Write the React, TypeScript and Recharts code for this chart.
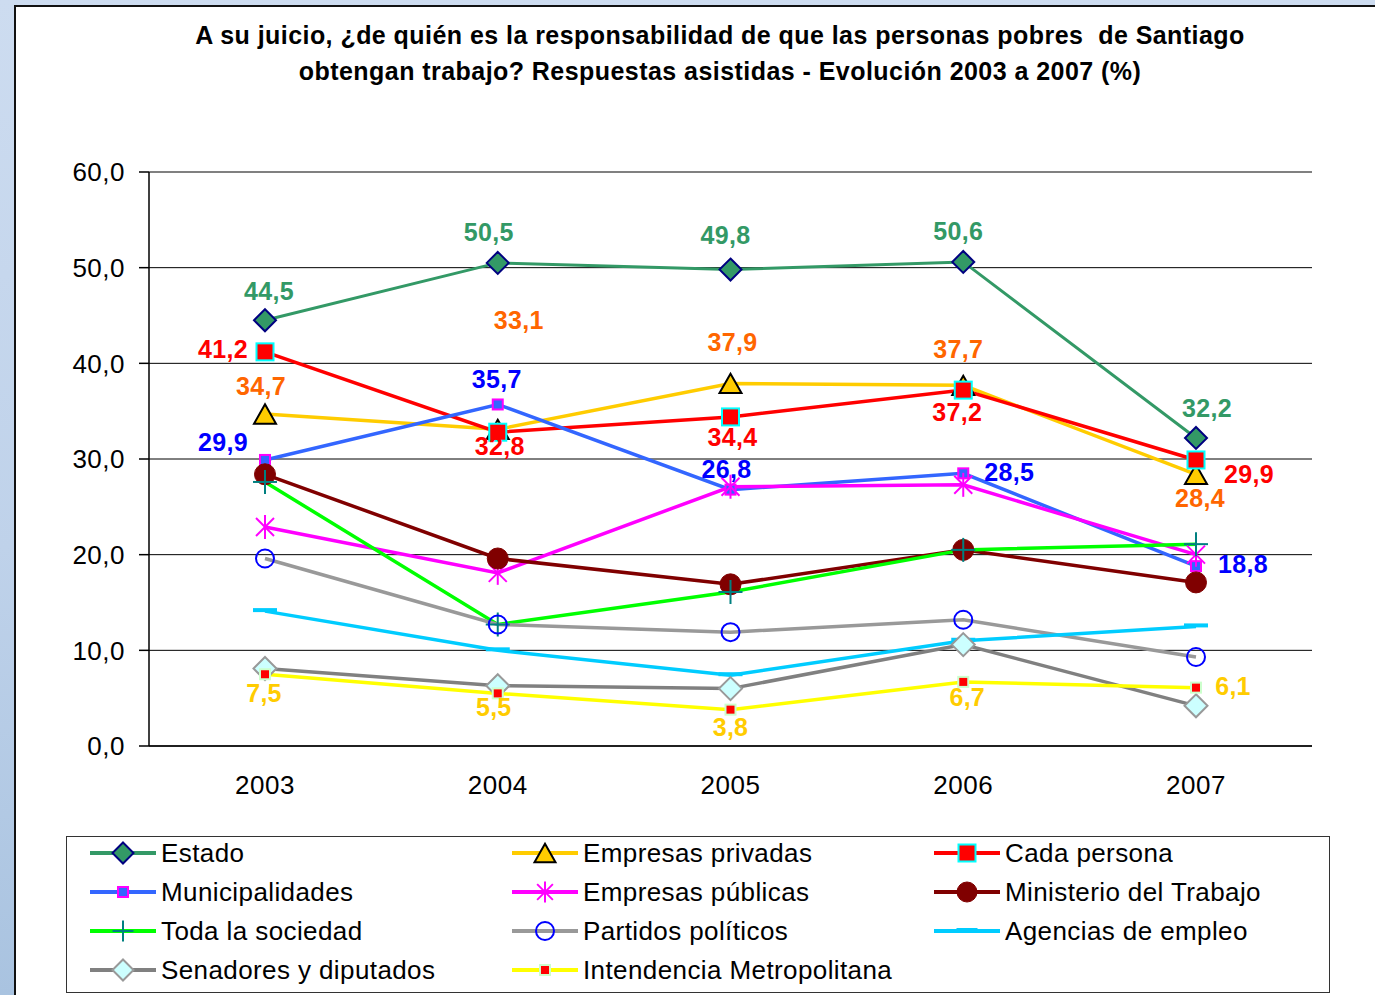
import React from 'react';
import { LineChart, Line, XAxis, YAxis, CartesianGrid, ReferenceLine, Legend, LabelList } from 'recharts';

// ---------- data ----------
const YEARS = ['2003', '2004', '2005', '2006', '2007'];
const ESTADO = [44.5, 50.5, 49.8, 50.6, 32.2];
const EMPRESAS_PRIVADAS = [34.7, 33.1, 37.9, 37.7, 28.4];
const CADA_PERSONA = [41.2, 32.8, 34.4, 37.2, 29.9];
const MUNICIPALIDADES = [29.9, 35.7, 26.8, 28.5, 18.8];
const EMPRESAS_PUBLICAS = [22.9, 18.1, 27.1, 27.3, 20.0];
const MINISTERIO = [28.4, 19.6, 16.9, 20.5, 17.1];
const TODA_SOCIEDAD = [27.6, 12.7, 16.1, 20.5, 21.1];
const PARTIDOS = [19.6, 12.7, 11.9, 13.2, 9.3];
const AGENCIAS = [14.1, 10.0, 7.4, 11.0, 12.5];
const SENADORES = [8.1, 6.3, 6.0, 10.6, 4.2];
const INTENDENCIA = [7.5, 5.5, 3.8, 6.7, 6.1];
const Y_TICKS = [0, 10, 20, 30, 40, 50, 60];
const BAND_TICKS = [0, 1, 2, 3, 4, 5];

const SERIES_KEYS = [
  'estado', 'privadas', 'cada', 'muni', 'publicas', 'ministerio',
  'toda', 'partidos', 'agencias', 'senadores', 'intendencia',
];
const SERIES_NAMES = [
  'Estado', 'Empresas privadas', 'Cada persona', 'Municipalidades', 'Empresas públicas',
  'Ministerio del Trabajo', 'Toda la sociedad', 'Partidos políticos', 'Agencias de empleo',
  'Senadores y diputados', 'Intendencia Metropolitana',
];
const SERIES_VALUES = [
  ESTADO, EMPRESAS_PRIVADAS, CADA_PERSONA, MUNICIPALIDADES, EMPRESAS_PUBLICAS,
  MINISTERIO, TODA_SOCIEDAD, PARTIDOS, AGENCIAS, SENADORES, INTENDENCIA,
];
const LABELED = ['estado', 'privadas', 'cada', 'muni', 'intendencia'];

const rows = YEARS.map((year, i) => {
  const r: Record<string, any> = { year };
  SERIES_KEYS.forEach((k, s) => { r[k] = SERIES_VALUES[s][i]; });
  return r;
});

// ---------- styles ----------
const FONT = '"Liberation Sans", Arial, Helvetica, sans-serif';

type St = { color: string; width: number; marker: string; size: number; fill: string; stroke: string; sw: number };
const STYLES: Record<string, St> = {
  estado: { color: '#339966', width: 3, marker: 'diamond', size: 22, fill: '#339966', stroke: '#000080', sw: 2 },
  privadas: { color: '#FFCC00', width: 3.5, marker: 'triangle', size: 22, fill: '#FFCC00', stroke: '#000000', sw: 2 },
  cada: { color: '#FF0000', width: 3.5, marker: 'square', size: 19, fill: '#FF0000', stroke: '#00FFFF', sw: 2 },
  muni: { color: '#3366FF', width: 3.5, marker: 'square', size: 12, fill: '#3366FF', stroke: '#FF00FF', sw: 2 },
  publicas: { color: '#FF00FF', width: 3.5, marker: 'star', size: 24, fill: 'none', stroke: '#FF00FF', sw: 2 },
  ministerio: { color: '#800000', width: 3.5, marker: 'circle', size: 22, fill: '#800000', stroke: '#800000', sw: 1 },
  toda: { color: '#00FF00', width: 3.5, marker: 'plus', size: 24, fill: 'none', stroke: '#008080', sw: 2 },
  partidos: { color: '#999999', width: 3.5, marker: 'circle', size: 20, fill: 'none', stroke: '#0000FF', sw: 2 },
  agencias: { color: '#00CCFF', width: 3.5, marker: 'dash', size: 24, fill: '#00CCFF', stroke: '#00CCFF', sw: 4 },
  senadores: { color: '#808080', width: 3.5, marker: 'diamond', size: 23, fill: '#CCFFFF', stroke: '#999999', sw: 2 },
  intendencia: { color: '#FFFF00', width: 3.5, marker: 'square', size: 12, fill: '#FF0000', stroke: '#CCFFCC', sw: 2 },
};

const LABEL_STYLE: Record<string, { color: string; offsets: number[][] }> = {
  estado: { color: '#339966', offsets: [[4, -29], [-9, -31], [-5, -35], [-5, -31], [11, -30]] },
  privadas: { color: '#FF6600', offsets: [[-4, -28], [21, -109], [2, -41], [-5, -36], [4, 24]] },
  cada: { color: '#FF0000', offsets: [[-42, -3], [2, 14], [2, 20], [-6, 22], [53, 14]] },
  muni: { color: '#0000FF', offsets: [[-42, -18], [-1, -25], [-4, -21], [46, -1], [47, -2]] },
  intendencia: { color: '#FFCC00', offsets: [[-1, 19], [-4, 14], [0, 17], [4, 15], [37, -2]] },
};

const fmt = (v: number) => v.toFixed(1).replace('.', ',');

function Marker({ st, cx, cy }: { st: St; cx: number; cy: number }) {
  const r = st.size / 2;
  switch (st.marker) {
    case 'diamond':
      return <polygon points={`${cx},${cy - r} ${cx + r},${cy} ${cx},${cy + r} ${cx - r},${cy}`} fill={st.fill} stroke={st.stroke} strokeWidth={st.sw} />;
    case 'triangle': {
      const h = st.size * 0.88;
      return <polygon points={`${cx},${cy - h / 2} ${cx + r},${cy + h / 2} ${cx - r},${cy + h / 2}`} fill={st.fill} stroke={st.stroke} strokeWidth={st.sw} strokeLinejoin="miter" />;
    }
    case 'square':
      return <rect x={cx - r + st.sw / 2} y={cy - r + st.sw / 2} width={st.size - st.sw} height={st.size - st.sw} fill={st.fill} stroke={st.stroke} strokeWidth={st.sw} />;
    case 'circle':
      return <circle cx={cx} cy={cy} r={r - st.sw / 2} fill={st.fill} stroke={st.stroke} strokeWidth={st.sw} />;
    case 'star': {
      const d = r * 0.75;
      return (
        <g stroke={st.stroke} strokeWidth={st.sw}>
          <line x1={cx} y1={cy - r} x2={cx} y2={cy + r} />
          <line x1={cx - d} y1={cy - d} x2={cx + d} y2={cy + d} />
          <line x1={cx - d} y1={cy + d} x2={cx + d} y2={cy - d} />
        </g>
      );
    }
    case 'plus':
      return (
        <g stroke={st.stroke} strokeWidth={st.sw}>
          <line x1={cx} y1={cy - r} x2={cx} y2={cy + r} />
          <line x1={cx - r} y1={cy} x2={cx + r} y2={cy} />
        </g>
      );
    case 'dash':
      return <rect x={cx - r} y={cy - 3} width={st.size} height={st.sw} fill={st.fill} />;
    default:
      return null;
  }
}

const makeDot = (key: string) => (p: any) => {
  if (p == null || p.cx == null || p.cy == null) return <g key={`${key}-n-${p?.index}`} />;
  return (
    <g key={`${key}-dot-${p.index}`}>
      <Marker st={STYLES[key]} cx={p.cx} cy={p.cy} />
    </g>
  );
};

const makeLabel = (key: string, values: number[]) => (p: any) => {
  const x = p.x ?? p.viewBox?.x;
  const y = p.y ?? p.viewBox?.y;
  if (x == null || y == null) return null;
  let idx = typeof p.index === 'number' ? p.index : values.indexOf(Number(p.value));
  if (idx < 0) idx = 0;
  const ls = LABEL_STYLE[key];
  const [dx, dy] = ls.offsets[idx] || [0, -25];
  return (
    <text key={`${key}-lbl-${idx}`} x={x + dx} y={y + dy} textAnchor="middle" dominantBaseline="central"
      fill={ls.color} fontFamily={FONT} fontWeight="bold" fontSize={25} letterSpacing={0.3}>
      {fmt(Number(p.value))}
    </text>
  );
};

const renderLegend = (props: any) => {
  const payload: any[] = props?.payload || [];
  return (
    <div style={{ position: 'relative', width: 1264, height: 157, border: '1.5px solid #333', boxSizing: 'border-box', background: '#fff' }}>
      {SERIES_KEYS.map((k, i) => {
        const entry = payload.find((e) => e.dataKey === k);
        const name = entry?.value ?? SERIES_NAMES[i];
        const st = STYLES[k];
        const col = i % 3;
        const row = Math.floor(i / 3);
        return (
          <div key={k} style={{ position: 'absolute', left: 23 + col * 422, top: row * 39 - 1, height: 34, display: 'flex', alignItems: 'center', whiteSpace: 'nowrap' }}>
            <svg width={66} height={34} style={{ display: 'block' }}>
              <line x1={0} x2={66} y1={17} y2={17} stroke={st.color} strokeWidth={4} />
              <Marker st={{ ...st, size: Math.min(st.size, 21) }} cx={33} cy={17} />
            </svg>
            <span style={{ marginLeft: 5, fontFamily: FONT, fontSize: 26, letterSpacing: 0.4, color: '#000', lineHeight: '34px' }}>{name}</span>
          </div>
        );
      })}
    </div>
  );
};

export default function App() {
  return (
    <div style={{ position: 'absolute', left: 0, top: 0, width: 1375, height: 995, overflow: 'hidden', background: 'linear-gradient(180deg, #cddcf0 0%, #bfd2ea 55%, #a9c3e0 100%)' }}>
      <div style={{ position: 'absolute', left: 14, top: 5, width: 1420, height: 1010, background: '#fff', borderLeft: '2px solid #111', borderTop: '2px solid #111' }} />
      <div style={{ position: 'absolute', left: 0, top: 17, width: 1440, textAlign: 'center', fontFamily: FONT, fontWeight: 'bold', fontSize: 25, letterSpacing: 0.45, lineHeight: '36px', color: '#000', whiteSpace: 'pre' }}>
        {'A su juicio, ¿de quién es la responsabilidad de que las personas pobres  de Santiago\nobtengan trabajo? Respuestas asistidas - Evolución 2003 a 2007 (%)'}
      </div>
      <div style={{ position: 'absolute', left: 0, top: 0 }}>
        <LineChart width={1375} height={995} data={rows} margin={{ top: 172, right: 63, left: 69, bottom: 188 }}>
          <CartesianGrid vertical={false} stroke="#000" strokeWidth={1} />
          <XAxis xAxisId="b" type="number" domain={[0, 5]} ticks={BAND_TICKS} height={1} axisLine={false}
            tick={false} tickLine={{ stroke: '#000', strokeWidth: 1.5 }} tickSize={10} allowDataOverflow />
          <XAxis dataKey="year" padding={{ left: 116, right: 116 }} height={60} tickLine={false} tickSize={10} tickMargin={20}
            axisLine={{ stroke: '#000', strokeWidth: 1.5 }} interval={0}
            tick={{ fontSize: 26, fill: '#000', fontFamily: FONT, letterSpacing: 0.5 }} />
          <YAxis domain={[0, 60]} ticks={Y_TICKS} tickFormatter={fmt} width={80} tickSize={10} tickMargin={14} interval={0}
            axisLine={{ stroke: '#000', strokeWidth: 1.5 }} tickLine={{ stroke: '#000', strokeWidth: 1.5 }}
            tick={{ fontSize: 26, fill: '#000', fontFamily: FONT, letterSpacing: 0.5 }} />
          <ReferenceLine y={60} stroke="#808080" strokeWidth={2} />
          <ReferenceLine x={5} xAxisId="b" stroke="#808080" strokeWidth={2} />
          {SERIES_KEYS.map((k, i) => (
            <Line key={k} dataKey={k} name={SERIES_NAMES[i]} type="linear" stroke={STYLES[k].color} strokeWidth={STYLES[k].width}
              dot={makeDot(k)} activeDot={false} isAnimationActive={false}>
              {LABELED.includes(k) ? <LabelList dataKey={k} content={makeLabel(k, SERIES_VALUES[i])} /> : null}
            </Line>
          ))}
          <Legend layout="vertical" align="center" verticalAlign="middle"
            wrapperStyle={{ left: 66, top: 836, width: 1264, height: 157 }} content={renderLegend} />
        </LineChart>
      </div>
    </div>
  );
}
